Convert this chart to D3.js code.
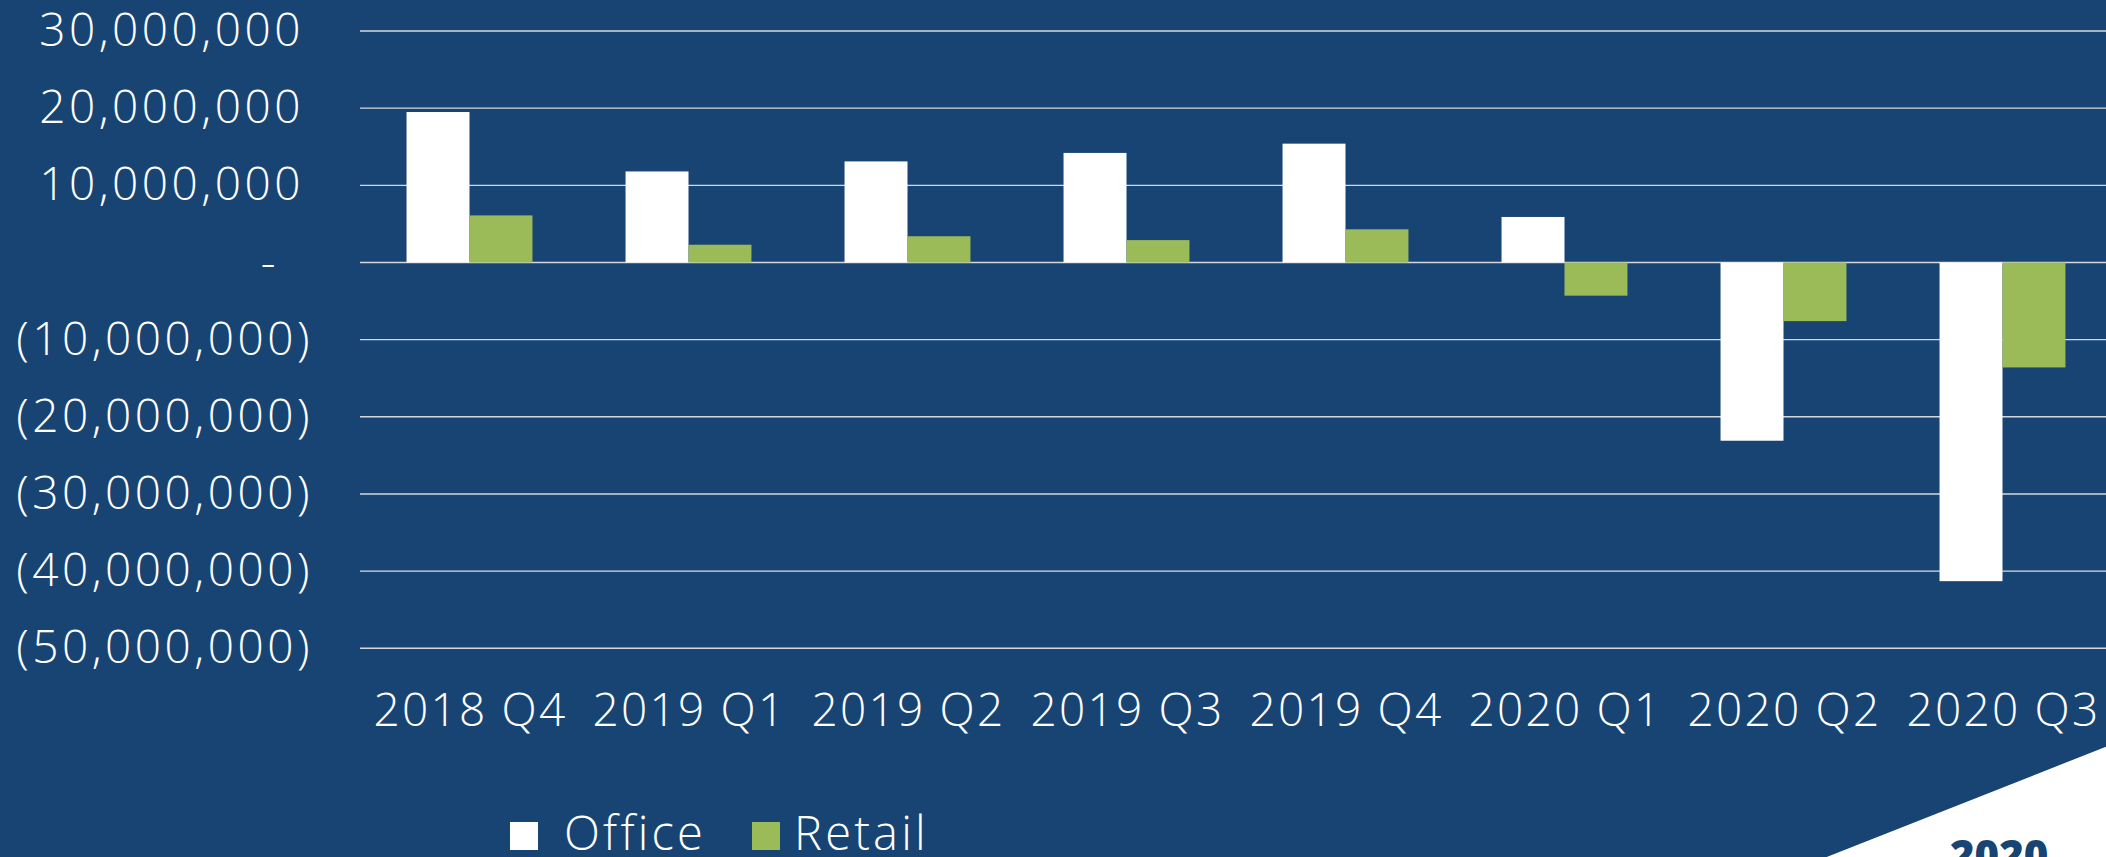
<!DOCTYPE html>
<html>
<head>
<meta charset="utf-8">
<script src="https://cdn.jsdelivr.net/npm/d3@7"></script>
<style>
  body { margin: 0; background: #184474; overflow: hidden; }
  text { font-family: "Open Sans", sans-serif; fill: #fff; font-weight: 300; }
</style>
</head>
<body>
<svg width="2106" height="857"></svg>
<script>
// quarterly net absorption
var quarters = ["2018 Q4", "2019 Q1", "2019 Q2", "2019 Q3", "2019 Q4", "2020 Q1", "2020 Q2", "2020 Q3"];
var office = [19500000, 11800000, 13100000, 14200000, 15400000, 5900000, -23100000, -41300000];
var retail = [6100000, 2300000, 3400000, 2900000, 4300000, -4300000, -7600000, -13600000];
var seriesNames = ["Office", "Retail"];
var seriesColors = ["#ffffff", "#9bbb59"];
var yTicks = [30000000, 20000000, 10000000, 0, -10000000, -20000000, -30000000, -40000000, -50000000];

var svg = d3.select("svg"),
  width = +svg.attr("width"),
  height = +svg.attr("height");

var left = 360, right = 2112;

var y = d3.scaleLinear()
  .domain([-50000000, 30000000])
  .range([648.3, 31]);

var x = d3.scaleBand()
  .domain(quarters)
  .range([left, right])
  .paddingInner(0.425)
  .paddingOuter(0.2125);

var xs = d3.scaleBand()
  .domain(seriesNames)
  .range([0, x.bandwidth()]);

var color = d3.scaleOrdinal().domain(seriesNames).range(seriesColors);

var fmt = d3.format(",");
function acct(v) {
  if (v === 0) return "-";
  if (v < 0) return "(" + fmt(-v) + ")";
  return fmt(v);
}

// gridlines
svg.append("g")
  .attr("class", "grid")
  .selectAll("line")
  .data(yTicks)
  .enter().append("line")
  .attr("x1", left)
  .attr("x2", width)
  .attr("y1", function(d) { return y(d); })
  .attr("y2", function(d) { return y(d); })
  .attr("stroke", "#d4d8de")
  .attr("stroke-width", 1.4);

// y labels, accounting style
svg.append("g")
  .selectAll("text")
  .data(yTicks)
  .enter().append("text")
  .attr("x", function(d) { return d < 0 ? 313 : (d === 0 ? 279 : 304); })
  .attr("y", function(d) { return y(d) - 1.5; })
  .attr("dy", "0.36em")
  .attr("text-anchor", "end")
  .style("font-size", "46px")
  .style("letter-spacing", "3.5px")
  .text(acct);

// bars
var rows = quarters.map(function(q, i) {
  return {q: q, values: [{k: "Office", v: office[i]}, {k: "Retail", v: retail[i]}]};
});

var group = svg.append("g")
  .selectAll("g")
  .data(rows)
  .enter().append("g")
  .attr("transform", function(d) { return "translate(" + x(d.q) + ",0)"; });

group.selectAll("rect")
  .data(function(d) { return d.values; })
  .enter().append("rect")
  .attr("x", function(d) { return xs(d.k); })
  .attr("width", xs.bandwidth())
  .attr("y", function(d) { return y(Math.max(0, d.v)); })
  .attr("height", function(d) { return Math.abs(y(d.v) - y(0)); })
  .attr("fill", function(d) { return color(d.k); });

// category labels
svg.append("g")
  .selectAll("text")
  .data(quarters)
  .enter().append("text")
  .attr("x", function(d) { return x(d) + x.bandwidth() / 2 + 1; })
  .attr("y", 726)
  .attr("text-anchor", "middle")
  .style("font-size", "46px")
  .style("letter-spacing", "2.2px")
  .text(function(d) { return d; });

// legend
var legendX = [510, 752];
var legend = svg.append("g")
  .selectAll("g")
  .data(seriesNames)
  .enter().append("g")
  .attr("transform", function(d, i) { return "translate(" + legendX[i] + ",822)"; });

legend.append("rect")
  .attr("width", 28)
  .attr("height", 28)
  .attr("fill", function(d) { return color(d); });

legend.append("text")
  .attr("x", function(d, i) { return i === 0 ? 54 : 42; })
  .attr("y", 28)
  .style("font-size", "47px")
  .style("letter-spacing", "3.2px")
  .text(function(d) { return d; });

// white corner and cut-off title
svg.append("path")
  .attr("d", "M2106,746.7 L1826.7,857 L2106,857 Z")
  .attr("fill", "#ffffff");

svg.append("text")
  .attr("x", 1950)
  .attr("y", 870)
  .style("font-size", "42px")
  .style("font-weight", "800")
  .style("fill", "#184474")
  .text("2020");
</script>
</body>
</html>
